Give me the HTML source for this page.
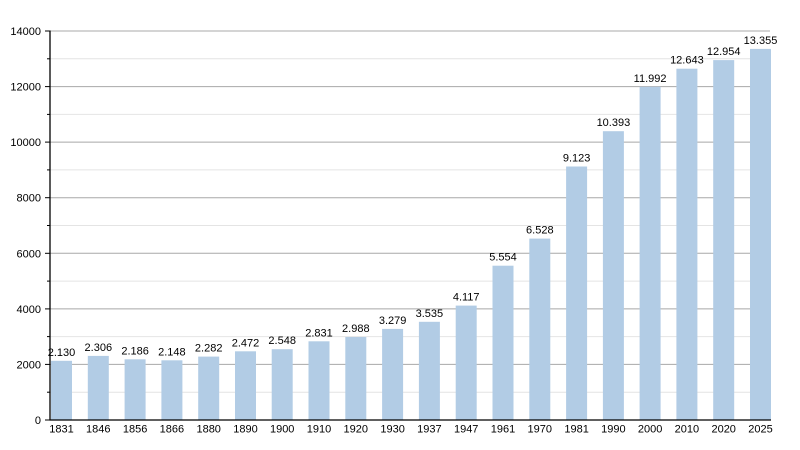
<!DOCTYPE html>
<html><head><meta charset="utf-8"><style>
html,body{margin:0;padding:0;background:#fff;}
svg{display:block;font-family:"Liberation Sans",Arial,sans-serif;}
</style></head><body>
<svg width="800" height="450" viewBox="0 0 800 450" xmlns="http://www.w3.org/2000/svg">
<rect width="800" height="450" fill="#fff"/>
<g stroke="#e4e4e4" stroke-width="1">
<line x1="50" y1="392.2" x2="770" y2="392.2"/>
<line x1="50" y1="336.6" x2="770" y2="336.6"/>
<line x1="50" y1="281.1" x2="770" y2="281.1"/>
<line x1="50" y1="225.5" x2="770" y2="225.5"/>
<line x1="50" y1="169.9" x2="770" y2="169.9"/>
<line x1="50" y1="114.4" x2="770" y2="114.4"/>
<line x1="50" y1="58.8" x2="770" y2="58.8"/>
</g>
<g stroke="#a8a8a8" stroke-width="1">
<line x1="50" y1="364.4" x2="770" y2="364.4"/>
<line x1="50" y1="308.9" x2="770" y2="308.9"/>
<line x1="50" y1="253.3" x2="770" y2="253.3"/>
<line x1="50" y1="197.7" x2="770" y2="197.7"/>
<line x1="50" y1="142.1" x2="770" y2="142.1"/>
<line x1="50" y1="86.6" x2="770" y2="86.6"/>
<line x1="50" y1="31" x2="770" y2="31"/>
</g>
<g fill="#b2cce5">
<rect x="51" y="360.8" width="21" height="59.2"/>
<rect x="87.8" y="355.9" width="21" height="64.1"/>
<rect x="124.6" y="359.3" width="21" height="60.7"/>
<rect x="161.4" y="360.3" width="21" height="59.7"/>
<rect x="198.2" y="356.6" width="21" height="63.4"/>
<rect x="235" y="351.3" width="21" height="68.7"/>
<rect x="271.7" y="349.2" width="21" height="70.8"/>
<rect x="308.5" y="341.3" width="21" height="78.7"/>
<rect x="345.3" y="337" width="21" height="83"/>
<rect x="382.1" y="328.9" width="21" height="91.1"/>
<rect x="418.9" y="321.8" width="21" height="98.2"/>
<rect x="455.7" y="305.6" width="21" height="114.4"/>
<rect x="492.5" y="265.7" width="21" height="154.3"/>
<rect x="529.3" y="238.6" width="21" height="181.4"/>
<rect x="566.1" y="166.5" width="21" height="253.5"/>
<rect x="602.9" y="131.2" width="21" height="288.8"/>
<rect x="639.6" y="86.8" width="21" height="333.2"/>
<rect x="676.4" y="68.7" width="21" height="351.3"/>
<rect x="713.2" y="60.1" width="21" height="359.9"/>
<rect x="750" y="48.9" width="21" height="371.1"/>
</g>
<g stroke="#000" stroke-width="1.3">
<line x1="50" y1="30.5" x2="50" y2="420.5"/>
<line x1="49.5" y1="420" x2="771" y2="420"/>
</g>
<g stroke="#000" stroke-width="1">
<line x1="45" y1="420" x2="50" y2="420"/>
<line x1="47" y1="392.2" x2="50" y2="392.2"/>
<line x1="45" y1="364.4" x2="50" y2="364.4"/>
<line x1="47" y1="336.6" x2="50" y2="336.6"/>
<line x1="45" y1="308.9" x2="50" y2="308.9"/>
<line x1="47" y1="281.1" x2="50" y2="281.1"/>
<line x1="45" y1="253.3" x2="50" y2="253.3"/>
<line x1="47" y1="225.5" x2="50" y2="225.5"/>
<line x1="45" y1="197.7" x2="50" y2="197.7"/>
<line x1="47" y1="169.9" x2="50" y2="169.9"/>
<line x1="45" y1="142.1" x2="50" y2="142.1"/>
<line x1="47" y1="114.4" x2="50" y2="114.4"/>
<line x1="45" y1="86.6" x2="50" y2="86.6"/>
<line x1="47" y1="58.8" x2="50" y2="58.8"/>
<line x1="45" y1="31" x2="50" y2="31"/>
</g>
<g font-size="11" fill="#000" text-anchor="end">
<text x="41" y="424">0</text>
<text x="41" y="368.4">2000</text>
<text x="41" y="312.9">4000</text>
<text x="41" y="257.3">6000</text>
<text x="41" y="201.7">8000</text>
<text x="41" y="146.1">10000</text>
<text x="41" y="90.6">12000</text>
<text x="41" y="35">14000</text>
</g>
<g font-size="11" fill="#000" text-anchor="middle">
<text x="61.5" y="432.5">1831</text>
<text x="98.3" y="432.5">1846</text>
<text x="135.1" y="432.5">1856</text>
<text x="171.9" y="432.5">1866</text>
<text x="208.7" y="432.5">1880</text>
<text x="245.5" y="432.5">1890</text>
<text x="282.2" y="432.5">1900</text>
<text x="319" y="432.5">1910</text>
<text x="355.8" y="432.5">1920</text>
<text x="392.6" y="432.5">1930</text>
<text x="429.4" y="432.5">1937</text>
<text x="466.2" y="432.5">1947</text>
<text x="503" y="432.5">1961</text>
<text x="539.8" y="432.5">1970</text>
<text x="576.6" y="432.5">1981</text>
<text x="613.4" y="432.5">1990</text>
<text x="650.1" y="432.5">2000</text>
<text x="686.9" y="432.5">2010</text>
<text x="723.7" y="432.5">2020</text>
<text x="760.5" y="432.5">2025</text>
</g>
<g font-size="11" fill="#000" text-anchor="middle">
<text x="61.5" y="355.8">2.130</text>
<text x="98.3" y="350.9">2.306</text>
<text x="135.1" y="354.3">2.186</text>
<text x="171.9" y="355.3">2.148</text>
<text x="208.7" y="351.6">2.282</text>
<text x="245.5" y="346.3">2.472</text>
<text x="282.2" y="344.2">2.548</text>
<text x="319" y="336.3">2.831</text>
<text x="355.8" y="332">2.988</text>
<text x="392.6" y="323.9">3.279</text>
<text x="429.4" y="316.8">3.535</text>
<text x="466.2" y="300.6">4.117</text>
<text x="503" y="260.7">5.554</text>
<text x="539.8" y="233.6">6.528</text>
<text x="576.6" y="161.5">9.123</text>
<text x="613.4" y="126.2">10.393</text>
<text x="650.1" y="81.8">11.992</text>
<text x="686.9" y="63.7">12.643</text>
<text x="723.7" y="55.1">12.954</text>
<text x="760.5" y="43.9">13.355</text>
</g>
</svg>
</body></html>
